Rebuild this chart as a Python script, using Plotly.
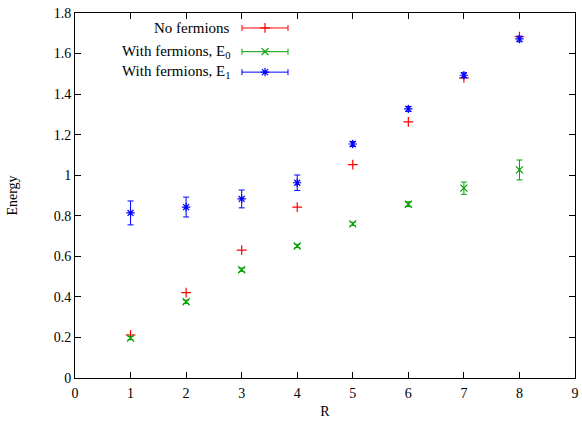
import plotly.graph_objects as go

# ---- data ----
R = [1, 2, 3, 4, 5, 6, 7, 8]
no_fermions = [0.212, 0.421, 0.631, 0.843, 1.052, 1.263, 1.48, 1.683]
e0 = [0.197, 0.376, 0.534, 0.651, 0.760, 0.857, 0.936, 1.026]
e0_err = [0.008, 0.008, 0.008, 0.008, 0.008, 0.012, 0.03, 0.049]
e1 = [0.814, 0.843, 0.883, 0.963, 1.154, 1.327, 1.493, 1.672]
e1_err = [0.059, 0.049, 0.044, 0.038, 0.012, 0.012, 0.012, 0.014]

labels = ["No fermions", "With fermions, E<sub>0</sub>", "With fermions, E<sub>1</sub>"]
colors = ["#ff0000", "#00a000", "#0000ff"]
symbols = ["cross-thin-open", "x-thin-open", "asterisk-open"]

FONT = "Liberation Serif"

fig = go.Figure()

series = [(no_fermions, None), (e0, e0_err), (e1, e1_err)]
for (vals, errs), col, sym, name in zip(series, colors, symbols, labels):
    tr = dict(
        x=R, y=vals, mode="markers", name=name, showlegend=False,
        marker=dict(symbol=sym, size=7, color=col, line=dict(color=col, width=1.2)),
    )
    if errs is not None:
        tr["error_y"] = dict(type="data", array=errs, visible=True, color=col,
                             thickness=1, width=3)
    fig.add_trace(go.Scatter(**tr))

# ---- custom gnuplot-style key (top-left, text right-aligned, sample on right) ----
key_rows_y = [0.959, 0.894, 0.838]
key_sample_x = 0.38
key_half = 0.046
key_text_x = 0.314
for ky, col, sym, name in zip(key_rows_y, colors, symbols, labels):
    fig.add_trace(go.Scatter(
        x=[key_sample_x], y=[ky], xaxis="x2", yaxis="y2", mode="markers",
        showlegend=False, hoverinfo="skip",
        marker=dict(symbol=sym, size=7, color=col, line=dict(color=col, width=1.2)),
        error_x=dict(type="data", array=[key_half], visible=True, color=col,
                     thickness=1, width=3),
    ))
    fig.add_annotation(x=key_text_x, y=ky, xref="x2", yref="y2", text=name,
                       showarrow=False, xanchor="right", yanchor="middle",
                       font=dict(family=FONT, size=15, color="black"))

axis_common = dict(
    showgrid=False, zeroline=False, showline=True, linecolor="black", linewidth=1,
    mirror="allticks", ticks="inside", ticklen=6, tickcolor="black", tickwidth=1,
    tickfont=dict(family=FONT, size=14, color="black"), automargin=False,
)

fig.update_layout(
    width=582, height=424,
    margin=dict(l=75, r=7, t=13, b=46),
    paper_bgcolor="white", plot_bgcolor="white",
    font=dict(family=FONT, size=14, color="black"),
    xaxis=dict(range=[0, 9], dtick=1, tick0=0, ticklabelstandoff=2,
               title=dict(text="R", font=dict(family=FONT, size=14), standoff=6),
               **axis_common),
    yaxis=dict(range=[0, 1.8], dtick=0.2, tick0=0, ticklabelstandoff=0,
               title=dict(text="Energy", font=dict(family=FONT, size=14), standoff=32),
               **axis_common),
    xaxis2=dict(overlaying="x", range=[0, 1], visible=False, fixedrange=True),
    yaxis2=dict(overlaying="y", range=[0, 1], visible=False, fixedrange=True),
    showlegend=False,
)

fig.write_html("out.html")
